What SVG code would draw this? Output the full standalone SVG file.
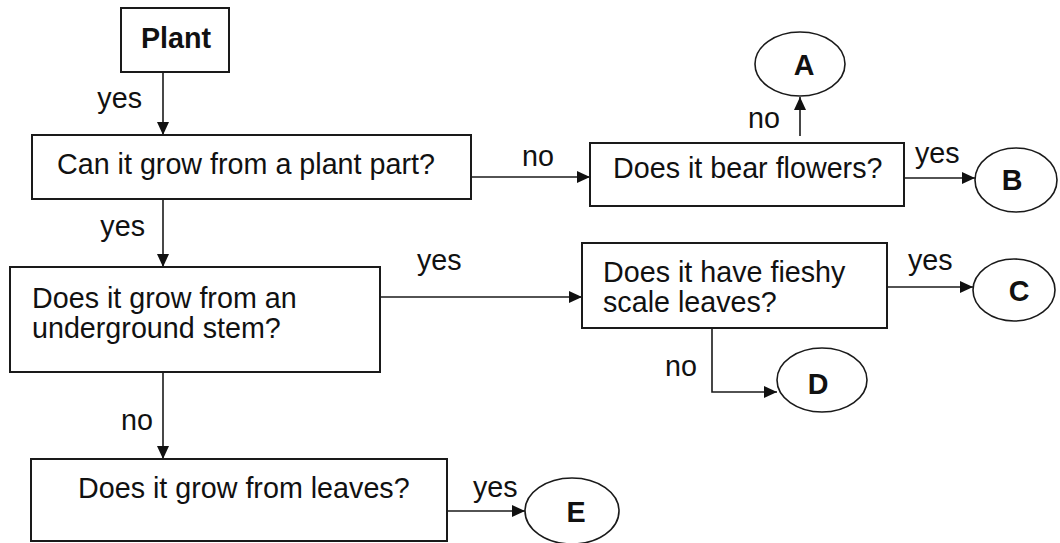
<svg xmlns="http://www.w3.org/2000/svg" width="1060" height="543" viewBox="0 0 1060 543">
  <style>
    .box { fill: #ffffff; stroke: #1a1a1a; stroke-width: 2; }
    .end { fill: #ffffff; stroke: #1a1a1a; stroke-width: 1.6; }
    .txt { font-family: "Liberation Sans", Arial, sans-serif; font-size: 28.7px; fill: #111111; }
    .bold { font-weight: bold; }
    .lbl { font-family: "Liberation Sans", Arial, sans-serif; font-size: 28.7px; fill: #111111; }
    .edge { fill: none; stroke: #1a1a1a; stroke-width: 1.6; marker-end: url(#arrow); }
  </style>
  <defs>
    <marker id="arrow" markerUnits="userSpaceOnUse" markerWidth="14" markerHeight="12" refX="13" refY="6" orient="auto">
      <path d="M0,0 L13,6 L0,12 Z" fill="#111111"/>
    </marker>
  </defs>
  <rect width="1060" height="543" fill="#ffffff"/>

  <!-- connectors -->
  <g id="connectors">
    <path class="edge" d="M163,72 V135"/>
    <path class="edge" d="M471,177 H590"/>
    <path class="edge" d="M800,136 V97"/>
    <path class="edge" d="M904,178 H975"/>
    <path class="edge" d="M163,199 V267"/>
    <path class="edge" d="M380,297 H582"/>
    <path class="edge" d="M887,287 H973"/>
    <path class="edge" d="M712,328 V392 H777"/>
    <path class="edge" d="M163,372 V459"/>
    <path class="edge" d="M447,511 H525"/>
    <text class="lbl" x="142" y="108" text-anchor="end">yes</text>
    <text class="lbl" x="522" y="166">no</text>
    <text class="lbl" x="780" y="128" text-anchor="end">no</text>
    <text class="lbl" x="915" y="163">yes</text>
    <text class="lbl" x="145" y="236" text-anchor="end">yes</text>
    <text class="lbl" x="417" y="270">yes</text>
    <text class="lbl" x="908" y="270">yes</text>
    <text class="lbl" x="697" y="376" text-anchor="end">no</text>
    <text class="lbl" x="153" y="430" text-anchor="end">no</text>
    <text class="lbl" x="473" y="497">yes</text>
  </g>

  <!-- question and start nodes -->
  <g id="plant">
    <rect class="box" x="121" y="8" width="108" height="64"/>
    <text class="txt bold" x="176" y="48" text-anchor="middle">Plant</text>
  </g>
  <g id="q-plant-part">
    <rect class="box" x="32" y="135" width="439" height="64"/>
    <text class="txt" x="57" y="174">Can it grow from a plant part?</text>
  </g>
  <g id="q-flowers">
    <rect class="box" x="590" y="143" width="314" height="63"/>
    <text class="txt" x="613" y="178">Does it bear flowers?</text>
  </g>
  <g id="q-underground">
    <rect class="box" x="10" y="267" width="370" height="105"/>
    <text class="txt" x="32" y="308">Does it grow from an</text>
    <text class="txt" x="32" y="338">underground stem?</text>
  </g>
  <g id="q-scale-leaves">
    <rect class="box" x="582" y="243" width="305" height="85"/>
    <text class="txt" x="603" y="282">Does it have fieshy</text>
    <text class="txt" x="603" y="312">scale leaves?</text>
  </g>
  <g id="q-leaves">
    <rect class="box" x="31" y="459" width="416" height="82"/>
    <text class="txt" x="78" y="498">Does it grow from leaves?</text>
  </g>

  <!-- outcome nodes -->
  <g id="end-a">
    <ellipse class="end" cx="800" cy="64" rx="45" ry="32"/>
    <text class="txt bold" x="804" y="75" text-anchor="middle">A</text>
  </g>
  <g id="end-b">
    <ellipse class="end" cx="1016" cy="180" rx="41" ry="32"/>
    <text class="txt bold" x="1012" y="190" text-anchor="middle">B</text>
  </g>
  <g id="end-c">
    <ellipse class="end" cx="1014" cy="290" rx="41" ry="31"/>
    <text class="txt bold" x="1019" y="301" text-anchor="middle">C</text>
  </g>
  <g id="end-d">
    <ellipse class="end" cx="822" cy="380" rx="45" ry="32"/>
    <text class="txt bold" x="818" y="394" text-anchor="middle">D</text>
  </g>
  <g id="end-e">
    <ellipse class="end" cx="572" cy="511" rx="47" ry="33"/>
    <text class="txt bold" x="576" y="522" text-anchor="middle">E</text>
  </g>
</svg>
